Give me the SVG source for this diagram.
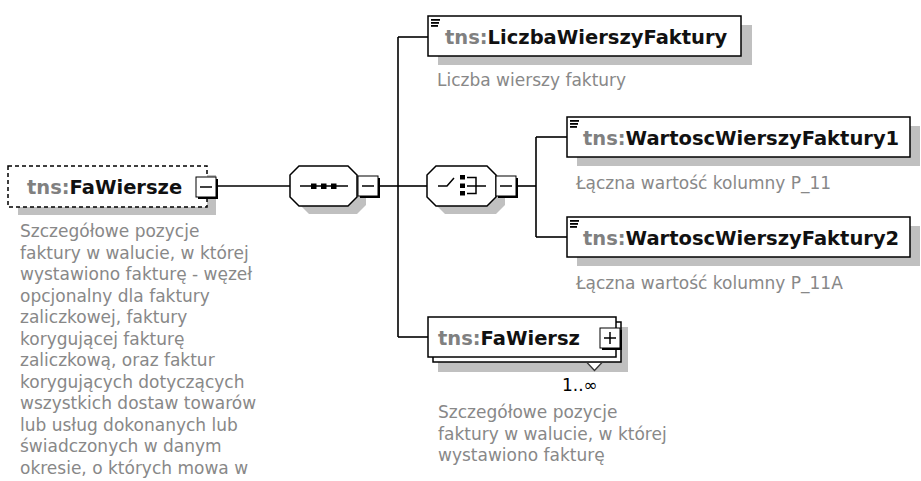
<svg xmlns="http://www.w3.org/2000/svg" width="921" height="481" viewBox="0 0 921 481">
<style>
.bg{fill:#fff}
.sh{fill:#c0c0c0}
.box{fill:#fff;stroke:#000;stroke-width:1.5}
.dash{fill:#fff;stroke:#000;stroke-width:1.5;stroke-dasharray:4 3}
.conn{fill:none;stroke:#000;stroke-width:1.6}
.t{font-family:"DejaVu Sans",sans-serif;font-weight:bold;font-size:19.5px;fill:#111}
.ns{fill:#808080}
.d{font-family:"DejaVu Sans",sans-serif;font-size:17px;fill:#888}
.occ{font-family:"DejaVu Sans",sans-serif;font-size:17px;fill:#000}
.ic{fill:#000}
.btnb{fill:#000}
.btn{fill:#fff;stroke:#000;stroke-width:1}
.sym{fill:none;stroke:#000;stroke-width:1.5}
</style>
<rect class="bg" x="0" y="0" width="921" height="481"/>

<g id="connectors">
  <path class="conn" d="M217,186 H290"/>
  <path class="conn" d="M380,186 H398"/>
  <path class="conn" d="M398,37 V337"/>
  <path class="conn" d="M398,37 H428"/>
  <path class="conn" d="M398,186 H427"/>
  <path class="conn" d="M398,337 H428"/>
  <path class="conn" d="M518,186 H536"/>
  <path class="conn" d="M536,137 V237"/>
  <path class="conn" d="M536,137 H567"/>
  <path class="conn" d="M536,237 H567"/>
</g>

<g id="FaWiersze">
  <rect class="sh" x="18" y="175" width="198" height="40"/>
  <rect class="dash" x="8" y="166" width="199" height="41"/>
  <text class="t" x="27" y="193.5"><tspan class="ns">tns:</tspan>FaWiersze</text>
  <rect class="btnb" x="198" y="179" width="20" height="20"/>
  <rect class="btn" x="196" y="177" width="20" height="20"/>
  <path class="sym" d="M200,187 H212"/>
  <text class="d" x="20" y="237">Szczegółowe pozycje</text>
  <text class="d" x="20" y="258.5">faktury w walucie, w której</text>
  <text class="d" x="20" y="280">wystawiono fakturę - węzeł</text>
  <text class="d" x="20" y="301.5">opcjonalny dla faktury</text>
  <text class="d" x="20" y="323">zaliczkowej, faktury</text>
  <text class="d" x="20" y="344.5">korygującej fakturę</text>
  <text class="d" x="20" y="366">zaliczkową, oraz faktur</text>
  <text class="d" x="20" y="387.5">korygujących dotyczących</text>
  <text class="d" x="20" y="409">wszystkich dostaw towarów</text>
  <text class="d" x="20" y="430.5">lub usług dokonanych lub</text>
  <text class="d" x="20" y="452">świadczonych w danym</text>
  <text class="d" x="20" y="473.5">okresie, o których mowa w</text>
</g>

<g id="sequence">
  <path class="sh" d="M309,174 H357 L366,183 V205 L357,214 H309 L300,205 V183 Z"/>
  <path class="box" d="M299,166 H348 L357,175 V197 L348,206 H299 L290,197 V175 Z"/>
  <path class="sym" d="M300,186 H348"/>
  <rect class="ic" x="311" y="183.5" width="5.5" height="5.5"/>
  <rect class="ic" x="321" y="183.5" width="5.5" height="5.5"/>
  <rect class="ic" x="331" y="183.5" width="5.5" height="5.5"/>
  <rect class="btnb" x="360" y="178" width="20" height="20"/>
  <rect class="btn" x="358" y="176" width="20" height="20"/>
  <path class="sym" d="M362,186 H374"/>
</g>

<g id="choice">
  <path class="sh" d="M445,174 H496 L505,183 V205 L496,214 H445 L436,205 V183 Z"/>
  <path class="box" d="M436,166 H487 L496,175 V197 L487,206 H436 L427,197 V175 Z"/>
  <path class="sym" d="M438,186 H447 L454,178"/>
  <rect class="ic" x="460" y="175" width="5" height="4.5"/>
  <rect class="ic" x="460" y="183.5" width="5" height="4.5"/>
  <rect class="ic" x="460" y="191" width="5" height="4.5"/>
  <path class="sym" d="M467,177.5 H476 V193.5 H467 M467,186 H486"/>
  <rect class="btnb" x="498" y="178" width="20" height="20"/>
  <rect class="btn" x="496" y="176" width="20" height="20"/>
  <path class="sym" d="M500,186 H512"/>
</g>

<g id="LiczbaWierszyFaktury">
  <rect class="sh" x="438" y="25" width="314" height="40"/>
  <rect class="box" x="428" y="16" width="313" height="40"/>
  <rect class="ic" x="431" y="19" width="9" height="1.8"/>
  <rect class="ic" x="431" y="22" width="8" height="1.8"/>
  <rect class="ic" x="431" y="25" width="7" height="1.8"/>
  <text class="t" x="445" y="43.5"><tspan class="ns">tns:</tspan>LiczbaWierszyFaktury</text>
  <text class="d" x="437" y="86">Liczba wierszy faktury</text>
</g>

<g id="WartoscWierszyFaktury1">
  <rect class="sh" x="577" y="126" width="343" height="40"/>
  <rect class="box" x="567" y="117" width="343" height="40"/>
  <rect class="ic" x="570" y="120" width="9" height="1.8"/>
  <rect class="ic" x="570" y="123" width="8" height="1.8"/>
  <rect class="ic" x="570" y="126" width="7" height="1.8"/>
  <text class="t" x="583" y="144.5"><tspan class="ns">tns:</tspan>WartoscWierszyFaktury1</text>
  <text class="d" x="576" y="189">Łączna wartość kolumny P_11</text>
</g>

<g id="WartoscWierszyFaktury2">
  <rect class="sh" x="577" y="226" width="343" height="40"/>
  <rect class="box" x="567" y="217" width="343" height="40"/>
  <rect class="ic" x="570" y="220" width="9" height="1.8"/>
  <rect class="ic" x="570" y="223" width="8" height="1.8"/>
  <rect class="ic" x="570" y="226" width="7" height="1.8"/>
  <text class="t" x="583" y="244.5"><tspan class="ns">tns:</tspan>WartoscWierszyFaktury2</text>
  <text class="d" x="576" y="289">Łączna wartość kolumny P_11A</text>
</g>

<g id="FaWiersz">
  <rect class="sh" x="438" y="327" width="190" height="45"/>
  <rect class="box" x="433" y="322" width="188" height="40"/>
  <rect class="box" x="428" y="317" width="188" height="40"/>
  <text class="t" x="438" y="344.5"><tspan class="ns">tns:</tspan>FaWiersz</text>
  <rect class="btnb" x="602" y="330" width="20" height="20"/>
  <rect class="btn" x="600" y="328" width="20" height="20"/>
  <path class="sym" d="M604,338 H616 M610,332 V344"/>
  <path d="M587,362.5 L602,362.5 L594.5,370.5 Z" fill="#fff" stroke="#333" stroke-width="1.2"/>
  <text class="occ" x="562" y="391">1..∞</text>
  <text class="d" x="438" y="418">Szczegółowe pozycje</text>
  <text class="d" x="438" y="439.5">faktury w walucie, w której</text>
  <text class="d" x="438" y="461">wystawiono fakturę</text>
</g>
</svg>
